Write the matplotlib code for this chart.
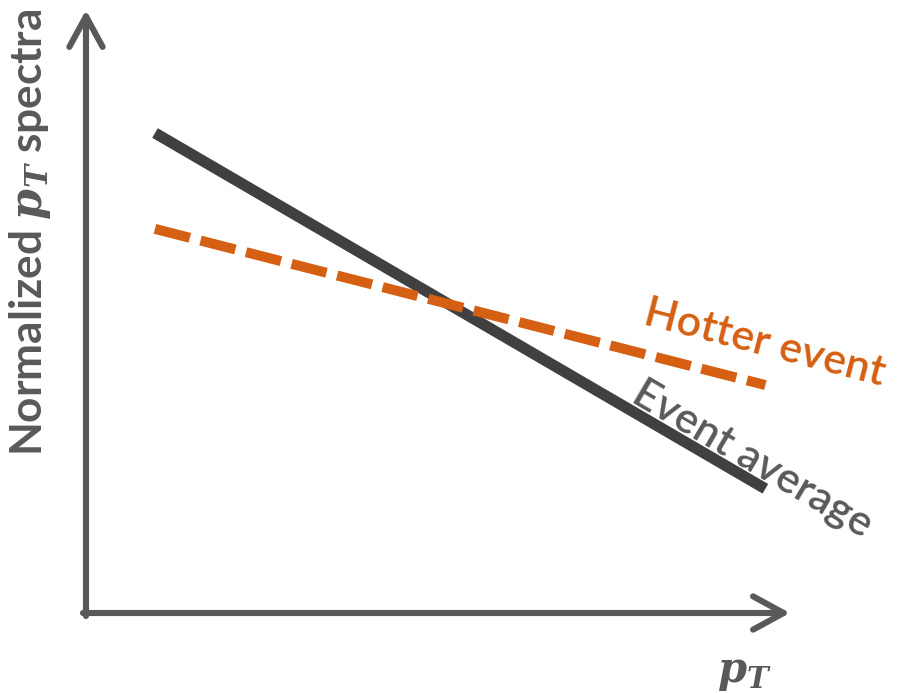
import matplotlib
matplotlib.use("Agg")
import matplotlib.pyplot as plt

# schematic: normalized pT spectra, event average vs hotter event
PT = [0.098, 0.965]
EVENT_AVG = [0.796, 0.206]
HOTTER = [0.637, 0.378]

AXIS_COLOR = "#595959"
AVG_COLOR = "#404040"
HOT_COLOR = "#D55F12"

plt.rcParams["mathtext.fontset"] = "custom"
plt.rcParams["mathtext.it"] = "DejaVu Serif:italic"
plt.rcParams["mathtext.bf"] = "DejaVu Serif:bold:italic"
plt.rcParams["mathtext.rm"] = "DejaVu Serif"

W, H = 897, 693
fig = plt.figure(figsize=(W / 100, H / 100), dpi=100)
ax = fig.add_axes([86 / W, 80 / H, 704 / W, 603 / H])
ax.set_xlim(0, 1)
ax.set_ylim(0, 1)
ax.axis("off")

# axes with open arrow heads
arrow = dict(arrowstyle="->,head_length=1.1,head_width=0.6", lw=4.4,
             color=AXIS_COLOR, capstyle="round", joinstyle="round",
             shrinkA=0, shrinkB=0, mutation_scale=20)
ax.annotate("", xy=(0, 1.0), xytext=(0, -0.005), arrowprops=arrow,
            annotation_clip=False)
ax.annotate("", xy=(1.0, 0), xytext=(-0.0043, 0), arrowprops=arrow,
            annotation_clip=False)

ax.plot(PT, EVENT_AVG, color=AVG_COLOR, lw=8, solid_capstyle="butt")
ax.plot(PT, HOTTER, color=HOT_COLOR, lw=7.2, dashes=(3.6, 1.1),
        dash_capstyle="butt")

ax.text(0.9645, 0.448, "Hotter event", color=HOT_COLOR, fontsize=31,
        family="Lato", fontweight="semibold", rotation=-14.5,
        rotation_mode="anchor", ha="center", va="center", clip_on=False)
ax.text(0.946, 0.254, "Event average", color=AXIS_COLOR, fontsize=31,
        family="Lato", fontweight="semibold", rotation=-30.5,
        rotation_mode="anchor", ha="center", va="center", clip_on=False)

ax.text(-0.0795, 0.632, r"Normalized $\mathbf{p}_\mathbf{T}$ spectra",
        color=AXIS_COLOR, fontsize=31.8, family="Lato", fontweight="bold",
        rotation=90, ha="center", va="center", clip_on=False)
ax.text(0.936, -0.098, r"$\mathbf{p}_\mathbf{T}$", color=AXIS_COLOR,
        fontsize=30, ha="center", va="center", clip_on=False)

fig.savefig("out.png", dpi=100)
